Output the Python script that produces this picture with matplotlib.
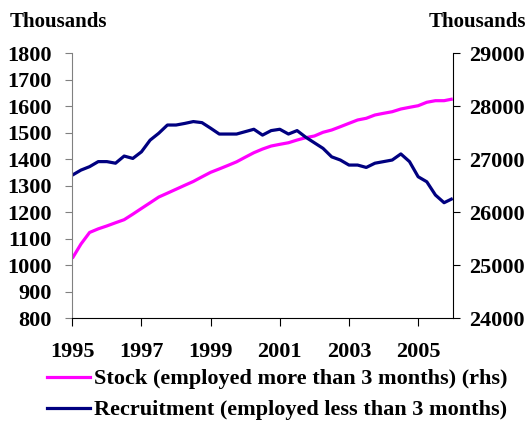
import numpy as np
import matplotlib
matplotlib.use("Agg")
import matplotlib.pyplot as plt
from matplotlib.lines import Line2D

plt.rcParams['font.family'] = ['Liberation Serif', 'DejaVu Serif']
plt.rcParams['font.weight'] = 'bold'

# quarterly, 1995Q1 .. 2006Q1
quarters = 1995 + np.arange(45) / 4.0

# thousands, left axis
recruitment = [1340, 1359, 1372, 1391, 1391, 1385, 1412, 1403, 1428, 1472,
               1498, 1529, 1529, 1535, 1542, 1538, 1517, 1495, 1495, 1495,
               1504, 1513, 1491, 1508, 1513, 1495, 1508, 1483, 1462, 1441,
               1409, 1397, 1378, 1378, 1369, 1385, 1391, 1397, 1420, 1391,
               1334, 1315, 1265, 1236, 1252]

# thousands, right axis
stock = [25130, 25400, 25619, 25687, 25742, 25802, 25860, 25964, 26072, 26179,
         26287, 26360, 26434, 26508, 26581, 26668, 26753, 26817, 26883, 26951,
         27038, 27123, 27192, 27249, 27281, 27311, 27362, 27406, 27438, 27508,
         27551, 27613, 27677, 27740, 27772, 27834, 27866, 27896, 27947, 27979,
         28009, 28074, 28104, 28104, 28136]

year_ticks = [1995, 1997, 1999, 2001, 2003, 2005]
stock_label = "Stock (employed more than 3 months) (rhs)"
recruit_label = "Recruitment (employed less than 3 months)"

fig = plt.figure(figsize=(5.3, 4.22), dpi=100)
ax = fig.add_axes([0.1364, 0.2457, 0.7178, 0.6283])
ax2 = ax.twinx()

ax2.plot(quarters, stock, color='#FF00FF', lw=2.3, solid_capstyle='butt')
ax.plot(quarters, recruitment, color='#000080', lw=2.3, solid_capstyle='butt')
ax.set_zorder(ax2.get_zorder() + 1)
ax.patch.set_visible(False)

ax.set_xlim(1995, 2006)
ax.set_ylim(800, 1800)
ax2.set_ylim(24000, 29000)
ax.set_yticks(np.arange(800, 1801, 100))
ax2.set_yticks(np.arange(24000, 29001, 1000))
ax.set_xticks(year_ticks)
ax.set_xticklabels([str(y) for y in year_ticks])

for a in (ax, ax2):
    a.spines['top'].set_visible(False)
ax.spines['left'].set_color('#808080')
ax.spines['right'].set_visible(False)
ax2.spines['left'].set_visible(False)
ax2.spines['bottom'].set_visible(False)
ax.spines['bottom'].set_color('black')
ax2.spines['right'].set_color('black')

ax.tick_params(axis='y', direction='out', length=5, color='#808080',
               labelsize=16, pad=10)
ax.tick_params(axis='x', direction='out', length=6, color='black',
               labelsize=16, pad=11)
ax2.tick_params(axis='y', direction='out', length=5, color='black',
                labelsize=16, pad=7)

fig.text(0.019, 0.9367, "Thousands", fontsize=15, fontweight='bold',
         ha='left', va='baseline')
fig.text(0.993, 0.9367, "Thousands", fontsize=15, fontweight='bold',
         ha='right', va='baseline')

handles = [Line2D([], [], color='#FF00FF', lw=2.3),
           Line2D([], [], color='#000080', lw=2.3)]
fig.legend(handles, [stock_label, recruit_label], loc='upper left',
           bbox_to_anchor=(0.088, 0.126), frameon=False, fontsize=16,
           handlelength=1.95, handletextpad=0.19, labelspacing=0.47,
           borderpad=0, borderaxespad=0)

fig.savefig("out.png", dpi=100)
